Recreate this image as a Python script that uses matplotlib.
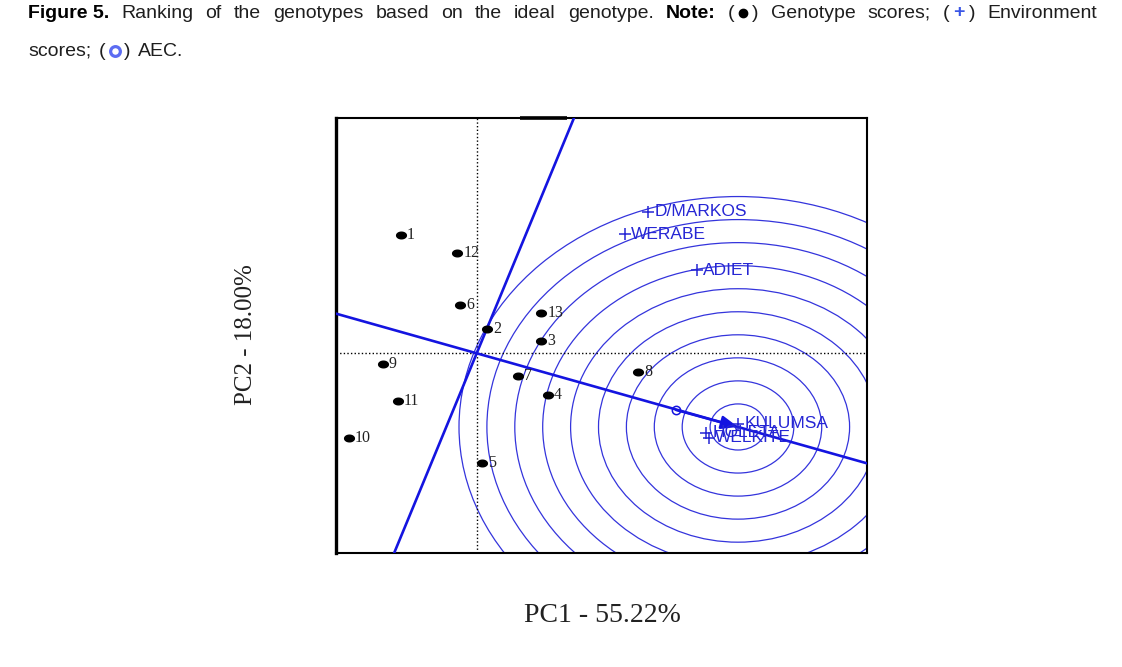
import numpy as np
import matplotlib
matplotlib.use("Agg")
import matplotlib.pyplot as plt
from matplotlib import font_manager as fm
from matplotlib.patches import Circle
from matplotlib.path import Path
from matplotlib.lines import Line2D

# ---------------- data ----------------
gen_labels = ["1", "12", "6", "2", "13", "3", "9", "7", "4", "11", "10", "5", "8"]
gen_x = [-0.760, -0.197, -0.170, 0.103, 0.643, 0.643, -0.940, 0.410, 0.710, -0.790, -1.280, 0.056, 1.613]
gen_y = [1.432, 1.218, 0.585, 0.294, 0.488, 0.153, -0.130, -0.278, -0.501, -0.581, -1.029, -1.332, -0.226]

env_labels = ["D/MARKOS", "WERABE", "ADIET", "KULUMSA", "HOLETA", "WELKITE"]
env_x = [1.713, 1.483, 2.203, 2.613, 2.293, 2.323]
env_y = [1.711, 1.444, 1.008, -0.856, -0.965, -1.025]

aec_point = (1.993, -0.686)       # average environment
ideal_point = (2.613, -0.892)     # ideal genotype
ring_radii = [0.279, 0.558, 0.837, 1.116, 1.395, 1.674, 1.953, 2.232, 2.511, 2.790]

xlim = (-1.407, 3.903)
ylim = (-2.418, 2.849)

xlabel = "PC1 - 55.22%"
ylabel = "PC2 - 18.00%"

# ---------------- fonts ----------------
names = {f.name for f in fm.fontManager.ttflist}
def pick(cands, default="DejaVu Sans"):
    for c in cands:
        if c in names:
            return c
    return default

cap_font = pick(["Liberation Sans", "Open Sans", "Roboto"])
serif_font = pick(["Liberation Serif", "DejaVu Serif"], "DejaVu Serif")
sans_font = pick(["Liberation Sans", "DejaVu Sans"])

BLUE_LINE = "#1414e0"
BLUE_RING = "#3434dc"
BLUE_TXT = "#2626d4"

fig = plt.figure(figsize=(11.22, 6.67), dpi=100)
ax = fig.add_axes([336 / 1122, 1 - 553 / 667, (867 - 336) / 1122, (553 - 118) / 667])
ax.set_xlim(*xlim)
ax.set_ylim(*ylim)
ax.set_xticks([])
ax.set_yticks([])
for s in ax.spines.values():
    s.set_linewidth(1.5)
    s.set_color("black")
ax.spines["left"].set_linewidth(2.4)

# rings
for r in ring_radii:
    ax.add_patch(Circle(ideal_point, r, fill=False, ec=BLUE_RING, lw=0.9, zorder=1))

# dotted axes
ax.axhline(0, color="black", lw=1.0, ls=(0, (1, 1.6)), zorder=2)
ax.axvline(0, color="black", lw=1.0, ls=(0, (1, 1.6)), zorder=2)

# AEC abscissa and ordinate
ax.axline((0, 0), ideal_point, color=BLUE_LINE, lw=1.9, zorder=3)
ax.axline((0, 0), (-ideal_point[1], ideal_point[0]), color=BLUE_LINE, lw=1.9, zorder=3)

# arrow to ideal genotype
ax.annotate("", xy=ideal_point, xytext=aec_point,
            arrowprops=dict(arrowstyle="-|>,head_length=1.0,head_width=0.4",
                            color=BLUE_LINE, lw=1.8, shrinkA=0, shrinkB=0), zorder=4)

# average environment marker
ax.plot([aec_point[0]], [aec_point[1]], marker="o", ms=6, mfc="none", mec=BLUE_LINE, mew=1.1, zorder=5)

# genotype points (slightly flattened dots)
t = np.linspace(0, 2 * np.pi, 40)
ell = Path(np.column_stack([np.cos(t), 0.68 * np.sin(t)]), closed=True)
ax.plot(gen_x, gen_y, ls="none", marker=ell, ms=7, color="black", zorder=6)
for lab, x, y in zip(gen_labels, gen_x, gen_y):
    ax.annotate(lab, (x, y), xytext=(4.5, 0), textcoords="offset points",
                ha="left", va="center", fontsize=11.5, family=serif_font, color="#222222", zorder=7)

# environments
ax.plot(env_x, env_y, ls="none", marker="+", ms=8.5, mew=1.1, color=BLUE_TXT, zorder=6)
for lab, x, y in zip(env_labels, env_x, env_y):
    ax.annotate(lab, (x, y), xytext=(4.5, 0), textcoords="offset points",
                ha="left", va="center", fontsize=12.5, family=sans_font, color=BLUE_TXT, zorder=7)

# small artifact: thicker top frame segment
ax.plot([0.433, 0.903], [ylim[1], ylim[1]], color="black", lw=2.6, clip_on=False, zorder=8,
        solid_capstyle="butt")

# axis labels
fig.text(602 / 1122, 1 - 615 / 667, xlabel, ha="center", va="center", fontsize=20,
         family=serif_font, color="#222222")
fig.text(246 / 1122, 1 - 335 / 667, ylabel, ha="center", va="center", rotation=90, fontsize=18,
         family=serif_font, color="#222222")

# ---------------- caption (justified first line) ----------------
CAP_BLUE = "#3a56e6"
RING_BLUE = "#5c6cf2"
FS = 14.0
TXT = "#1e1e1e"
line1 = [
    [("Figure 5.", "bold", "black", FS)],
    [("Ranking", "normal", TXT, FS)], [("of", "normal", TXT, FS)],
    [("the", "normal", TXT, FS)], [("genotypes", "normal", TXT, FS)],
    [("based", "normal", TXT, FS)], [("on", "normal", TXT, FS)],
    [("the", "normal", TXT, FS)], [("ideal", "normal", TXT, FS)],
    [("genotype.", "normal", TXT, FS)],
    [("Note:", "bold", "black", FS)],
    [("(", "normal", TXT, FS), ("__dot__", "black"), (")", "normal", TXT, FS)],
    [("Genotype", "normal", TXT, FS)], [("scores;", "normal", TXT, FS)],
    [("(", "normal", TXT, FS), ("+", "bold", CAP_BLUE, FS), (")", "normal", TXT, FS)],
    [("Environment", "normal", TXT, FS)],
]
line2 = [
    [("scores;", "normal", TXT, FS)],
    [("(", "normal", TXT, FS), ("__ring__", RING_BLUE), (")", "normal", TXT, FS)],
    [("AEC.", "normal", TXT, FS)],
]

renderer = fig.canvas.get_renderer()
INNER = 4.0

def make_token(tok, ypix):
    objs, widths = [], []
    for part in tok:
        if part[0] in ("__dot__", "__ring__"):
            if part[0] == "__dot__":
                m = Line2D([0], [1 - ypix / 667], marker="o", ms=6.0, mfc=part[1], mec=part[1],
                           transform=fig.transFigure, ls="none")
            else:
                m = Line2D([0], [1 - ypix / 667], marker="o", ms=7.0, mfc="white", mec=part[1],
                           mew=2.3, transform=fig.transFigure, ls="none")
            fig.add_artist(m)
            objs.append(m)
            widths.append(10.0)
        else:
            s, w, c, fs = part
            o = fig.text(0, 1 - ypix / 667, s, fontsize=fs, fontweight=w, color=c,
                         family=[cap_font, "DejaVu Sans"], ha="left", va="center")
            objs.append(o)
            widths.append(o.get_window_extent(renderer).width)
    return objs, widths

def place(tokens, ypix, x0, x1=None, gap=None):
    made = [make_token(t, ypix) for t in tokens]
    totals = [sum(w) + INNER * (len(w) - 1) for _, w in made]
    if x1 is not None:
        gap = (x1 - x0 - sum(totals)) / (len(tokens) - 1)
    x = x0
    for (objs, widths), tot in zip(made, totals):
        xx = x
        for o, w in zip(objs, widths):
            if isinstance(o, Line2D):
                o.set_xdata([(xx + w / 2) / 1122])
            else:
                o.set_x(xx / 1122)
            xx += w + INNER
        x += tot + gap

place(line1, 13, 28, 1097)
place(line2, 51, 28, gap=8.0)

fig.savefig("out.png", dpi=100)
